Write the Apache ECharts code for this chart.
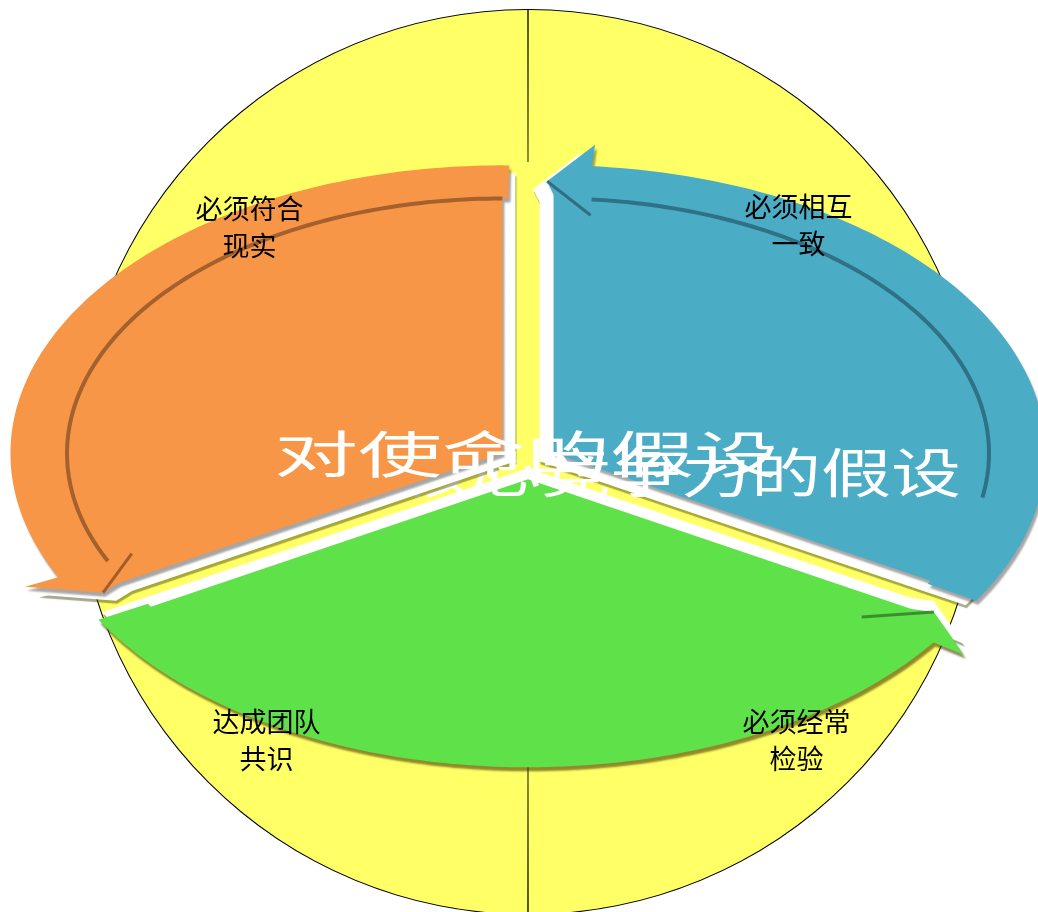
<!DOCTYPE html>
<html><head><meta charset="utf-8">
<script src="https://cdn.jsdelivr.net/npm/echarts@6/dist/echarts.min.js"></script>
<style>html,body{margin:0;padding:0;background:#fff}#chart{width:1038px;height:912px}</style>
</head><body><div id="chart"></div>
<script>
// ---- data ----
const conditionLabels = ['必须相互\n一致', '必须经常\n检验', '达成团队\n共识', '必须符合\n现实'];
const conditionShares = [1, 1, 1, 1];
const segmentTitles = ['对使命的假设', '', '对核心竞争力的假设'];
const segmentShares = [1, 1, 1];

// ---- layout / style ----
const FONT = '"Noto Sans CJK SC", "Noto Sans", sans-serif';
const CENTER = [528, 462];
const R_OUT = 452, R_IN = 296;
const YELLOW = '#FFFF66';
const COLORS = ['#F79646', '#5FE14A', '#4BACC6'];
const LINE_COLORS = ['#9a5a2a', null, '#2c6a7e'];
const LINE_SKIP = [0, 0, 20];
const BARB_COLORS = ['#8a4f22', '#2f7a25', '#2a5f70'];
const DRAW_RANK = [2, 0, 1];            // orange on top, green at the back
const WHITE_SHIFT = [[13, 8], [0, -11], [-14, 8]];   // px offset of the white side face
const OUTER_SHADOW = ['rgba(0,0,0,0.35)', 'rgba(70,60,0,0.6)', 'rgba(0,0,0,0.35)'];
const LABEL_NUDGE = [[4, 30], [2, 12], [5, 12], [-12, 32]];
const TITLE_LAYOUT = [{x: -0.004, y: 0.028, size: 50, sx: 1.68}, null, {x: 0.24, y: -0.038, size: 53, sx: 1.32}];
const E = 0.06;
const BAND_IN = 0.885, TAIL = 0.8;
const HEAD_BACK = 4.5, HEAD_OUT = 1.075, HEAD_TIP = 0.8, HEAD_TIP_R = 0.945, BARB_IN_A = 5.2, BARB_IN_R = 0.83;
const D = Math.PI / 180;

const total = segmentShares.reduce((a, b) => a + b, 0);
const cum = [];
segmentShares.reduce((acc, v, i) => { cum[i] = acc; return acc + v; }, 0);

function renderSegment(params, api) {
  const i = params.dataIndex;
  const start = 90 + cum[i] / total * 360;
  const end = start + api.value(1) / total * 360;
  const mid = (start + end) / 2;
  const zb = DRAW_RANK[i] * 10;
  const pt = (ang, r) => api.coord([
    E * Math.cos(mid * D) + r * Math.cos(ang * D),
    E * Math.sin(mid * D) + r * Math.sin(ang * D)
  ]);
  const outline = (tail) => {
    const p = [pt(0, 0), pt(start, BAND_IN), pt(start - tail, BAND_IN)];
    for (let a = start - tail; a < end - HEAD_BACK; a += 1) p.push(pt(a, 1));
    p.push(pt(end - HEAD_BACK, 1));
    p.push(pt(end - HEAD_BACK, HEAD_OUT));
    p.push(pt(end + HEAD_TIP, HEAD_TIP_R));
    p.push(pt(end, 0.9));
    return p;
  };
  const p = outline(TAIL);
  const ws = WHITE_SHIFT[i];
  const pw = outline(0).map(q => [q[0] + ws[0], q[1] + ws[1]]);
  const children = [
    {type: 'polygon', z2: zb + 1, shape: {points: pw},
     style: {fill: '#ffffff', shadowColor: 'rgba(60,60,0,0.45)', shadowBlur: 1, shadowOffsetX: 1, shadowOffsetY: 3}},
    {type: 'polygon', z2: zb + 2, shape: {points: p},
     style: {fill: COLORS[i], shadowColor: OUTER_SHADOW[i], shadowBlur: 2, shadowOffsetX: 2, shadowOffsetY: 4}}
  ];
  if (LINE_COLORS[i]) {
    const lp = [];
    for (let a = start + LINE_SKIP[i]; a <= end - 5; a += 1) lp.push(pt(a, BAND_IN));
    children.push({type: 'polyline', z2: zb + 3, shape: {points: lp},
      style: {stroke: LINE_COLORS[i], lineWidth: 4, fill: null, opacity: 0.9}});
  }
  const t = pt(end + HEAD_TIP, HEAD_TIP_R), b = pt(end - BARB_IN_A, BARB_IN_R);
  children.push({type: 'line', z2: zb + 3, shape: {x1: t[0], y1: t[1], x2: b[0], y2: b[1]},
    style: {stroke: BARB_COLORS[i], lineWidth: 3, opacity: 0.8}});
  const tl = TITLE_LAYOUT[i];
  if (segmentTitles[i] && tl) {
    const c = api.coord([tl.x, tl.y]);
    children.push({type: 'text', z2: zb + 5, x: c[0], y: c[1], scaleX: tl.sx, scaleY: 1,
      style: {text: segmentTitles[i], fill: '#ffffff', font: tl.size + 'px ' + FONT,
        textAlign: 'center', textVerticalAlign: 'middle', align: 'center', verticalAlign: 'middle',
        shadowColor: 'rgba(0,0,0,0.5)', shadowBlur: 2, shadowOffsetX: 2, shadowOffsetY: 3}});
  }
  return {type: 'group', children};
}

const chart = echarts.init(document.getElementById('chart'));
const W = 1038, H = 912, AX = 492, BY = 288;
chart.setOption({
  animation: false,
  backgroundColor: '#ffffff',
  grid: {left: 0, right: 0, top: 0, bottom: 0},
  xAxis: {type: 'value', min: -CENTER[0] / AX, max: (W - CENTER[0]) / AX, show: false},
  yAxis: {type: 'value', min: -(H - CENTER[1]) / BY, max: CENTER[1] / BY, show: false},
  series: [
    {type: 'pie', z: 1, silent: true, center: CENTER, radius: [0, R_IN + 4], startAngle: 90,
     data: [{value: 1, name: 'core'}], label: {show: false}, labelLine: {show: false},
     itemStyle: {color: YELLOW, borderWidth: 0}, emphasis: {disabled: true}},
    {type: 'pie', z: 1, silent: true, center: CENTER, radius: [R_IN + 4, R_OUT + 1], startAngle: 90,
     data: [{value: 1, name: 'outline'}], label: {show: false}, labelLine: {show: false},
     itemStyle: {color: '#000000', borderWidth: 0}, emphasis: {disabled: true}},
    {type: 'pie', z: 1, silent: true, center: CENTER, radius: [R_IN, R_OUT], startAngle: 90, padAngle: 0.17,
     data: conditionShares.map((v, i) => ({value: v, name: conditionLabels[i]})),
     label: {show: false}, labelLine: {show: false},
     itemStyle: {color: YELLOW, borderWidth: 0}, emphasis: {disabled: true}},
    {type: 'custom', z: 3, silent: true, coordinateSystem: 'cartesian2d',
     data: segmentShares.map((v, i) => [i, v]), renderItem: renderSegment},
    {type: 'pie', z: 5, silent: true, center: CENTER, radius: [R_IN, R_OUT], startAngle: 90,
     data: conditionShares.map((v, i) => ({value: v, name: conditionLabels[i],
       label: {offset: LABEL_NUDGE[i]}})),
     itemStyle: {color: 'rgba(0,0,0,0)', borderWidth: 0}, emphasis: {disabled: true},
     labelLine: {show: false},
     label: {show: true, position: 'inside', formatter: '{b}', color: '#000', fontSize: 27,
       lineHeight: 37, fontFamily: FONT, textBorderWidth: 0}}
  ]
});
</script></body></html>
